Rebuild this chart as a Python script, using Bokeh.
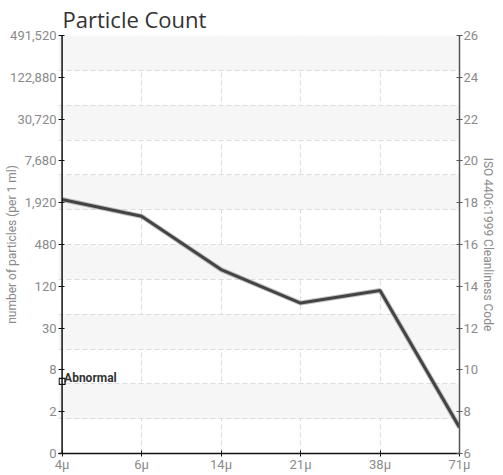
import math
from bokeh.plotting import figure
from bokeh.models import (Range1d, LinearAxis, FixedTicker, Span, ColumnDataSource)
from bokeh.core.properties import value
from bokeh.embed import file_html
from bokeh.resources import INLINE

# ---- data ----
sizes = ["4μ", "6μ", "14μ", "21μ", "38μ", "71μ"]
iso_codes = [18.15, 17.35, 14.8, 13.2, 13.8, 7.25]
code_ticks = [6, 8, 10, 12, 14, 16, 18, 20, 22, 24, 26]
count_labels = ["0", "2", "8", "30", "120", "480", "1,920", "7,680",
                "30,720", "122,880", "491,520"]
abnormal_code = 9.45
abnormal_text = "Abnormal"
title_text = "Particle Count"
left_title = "number of particles (per 1 ml)"
right_title = "ISO 4406:1999 Cleanliness Code"

FONT = "Roboto"
xs = list(range(len(sizes)))
ymin, ymax = code_ticks[0], code_ticks[-1]
n_bands = 12
grid_ticks = [ymin + i * (ymax - ymin) / n_bands for i in range(n_bands + 1)]
pad = 0.045  # small room left of the first category so its marker is not cut

p = figure(width=503, height=475, output_backend="svg", toolbar_location=None,
           x_range=Range1d(xs[0] - pad, xs[-1]), y_range=Range1d(ymin, ymax),
           min_border_left=58, min_border_right=44, min_border_top=0,
           min_border_bottom=22, y_axis_location=None, x_axis_location=None)
p.outline_line_color = None
p.background_fill_color = "white"
p.border_fill_color = "white"

p.title.text = title_text
p.title.text_font = "Open Sans"
p.title.text_font_size = "22px"
p.title.text_font_style = "normal"
p.title.text_color = "#333333"
p.title.offset = 4
p.title.standoff = 3

xaxis = LinearAxis(ticker=FixedTicker(ticks=xs),
                   major_label_overrides={i: s for i, s in enumerate(sizes)})
laxis = LinearAxis(ticker=FixedTicker(ticks=code_ticks),
                   major_label_overrides={t: s for t, s in zip(code_ticks, count_labels)},
                   axis_label=left_title)
raxis = LinearAxis(ticker=FixedTicker(ticks=code_ticks), axis_label=right_title)

for ax, col in ((xaxis, "#111111"), (laxis, "#111111"), (raxis, "#555555")):
    ax.axis_line_color = col
    ax.axis_line_width = 1.5
    ax.major_tick_line_color = col
    ax.major_tick_in = 3
    ax.major_tick_out = 3
    ax.minor_tick_line_color = None
    ax.major_label_text_color = "#8a8a8a"
    ax.major_label_text_font = FONT
    ax.major_label_text_font_size = "13px"
    ax.major_label_standoff = 1
    ax.axis_label_text_font = FONT
    ax.axis_label_text_font_size = "12px"
    ax.axis_label_text_font_style = "normal"
    ax.axis_label_text_color = "#8a8a8a"
xaxis.major_label_standoff = 0
raxis.axis_label_standoff = 0
# the left axis line is drawn at the first category by a Span below
laxis.axis_line_color = None
laxis.major_tick_in = 6
laxis.major_tick_out = 0
laxis.major_label_standoff = 2
laxis.axis_label_standoff = -12

p.add_layout(xaxis, "below")
p.add_layout(laxis, "left")
p.add_layout(raxis, "right")
p.add_layout(Span(location=xs[0], dimension="height", line_color="#111111",
                  line_width=1.5))

p.xgrid.ticker = FixedTicker(ticks=xs)
p.ygrid.ticker = FixedTicker(ticks=grid_ticks)
for g in (p.xgrid[0], p.ygrid[0]):
    g.grid_line_color = "#dcdcdc"
    g.grid_line_dash = "5 3"
    g.grid_line_width = 1
p.ygrid[0].band_fill_color = "#f6f6f6"
p.ygrid[0].band_fill_alpha = 1.0

src = ColumnDataSource(dict(x=xs, y=iso_codes))
p.line("x", "y", source=src, line_color="#8a8a8a", line_width=5, line_alpha=0.5)
p.line("x", "y", source=src, line_color="#444444", line_width=3)

ab = ColumnDataSource(dict(x=[xs[0]], y=[abnormal_code], t=[abnormal_text]))
p.scatter("x", "y", source=ab, marker="square", size=6, fill_color="white",
          line_color="#111111", line_width=1.3)
p.text("x", "y", text="t", source=ab, x_offset=2, y_offset=-3,
       text_font=value(FONT), text_font_size="12px", text_font_style="bold",
       text_color="#333333", text_baseline="alphabetic", text_align="left")

open("out.html", "w").write(file_html(p, INLINE))
